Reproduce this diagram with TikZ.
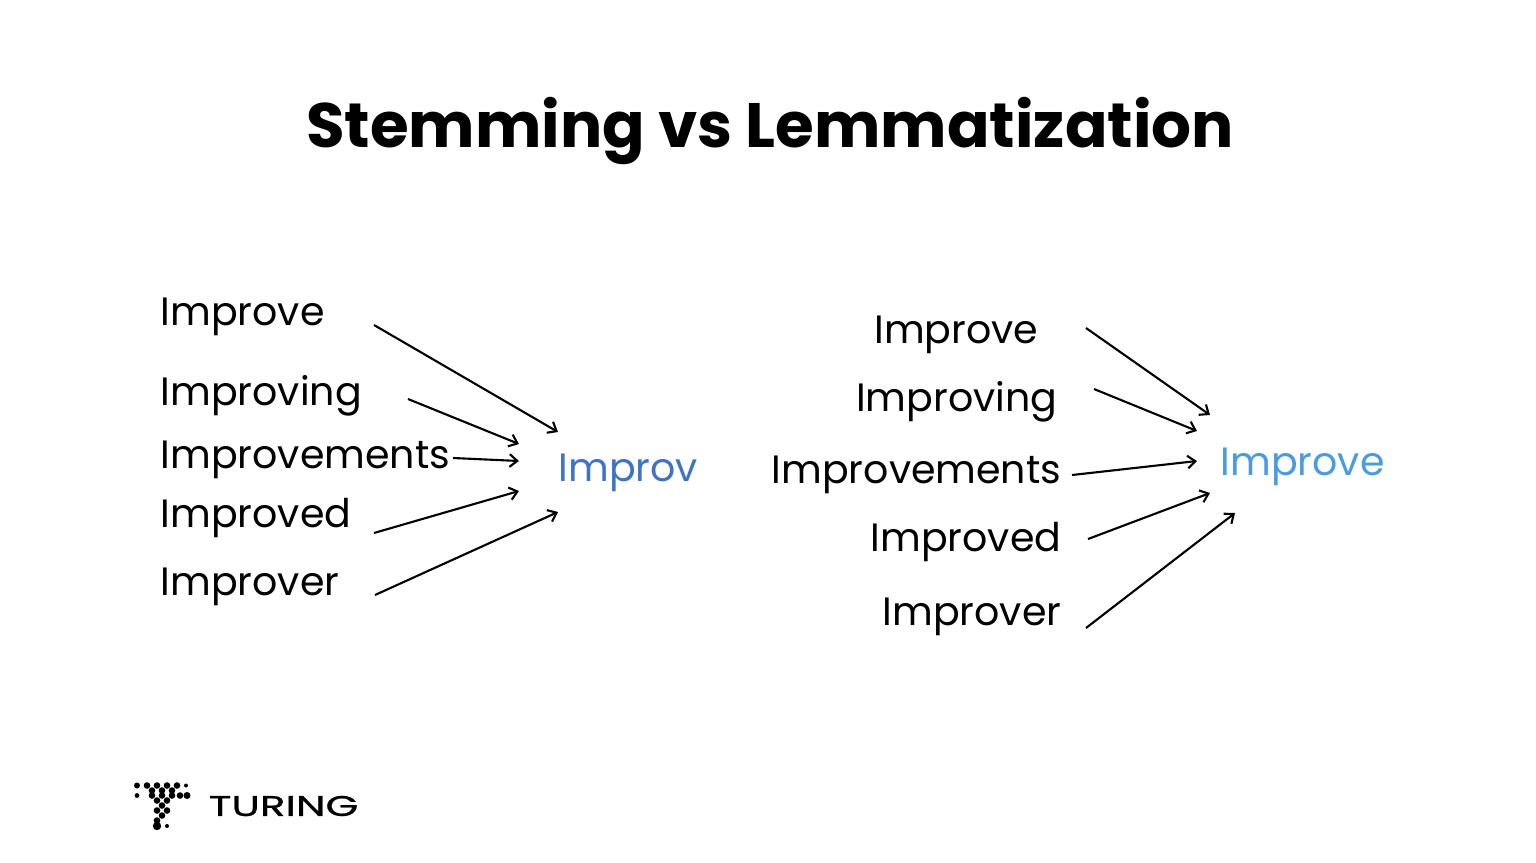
\documentclass[tikz,border=0pt]{standalone}
\usepackage{fontspec}
\setmainfont{Poppins}
\newfontfamily\logofont[FakeStretch=1.48,FakeBold=0.9]{Poppins}
\usetikzlibrary{arrows.meta}
\tikzset{
  word/.style = {inner sep = 0pt, font = \fontsize{11.25}{14}\selectfont},
  link/.style = {-{Straight Barb[length = 2.2pt, width = 3.6pt]}, line width = 0.6pt},
  dot/.style = {fill = black, draw = none}
}
\definecolor{stemblue}{HTML}{3F74C4}
\definecolor{lemmablue}{HTML}{4A9BE0}
\begin{document}
\begin{tikzpicture}
  \useasboundingbox (0, 0) rectangle (15.36, 8.62);
  \node[inner sep = 0pt, font = \fontsize{17.85}{22}\selectfont\bfseries] (title) at (7.70, 7.31) {Stemming vs Lemmatization};
  % left side
  \node[word, anchor = west] (stemA) at (1.60, 5.45) {Improve};
  \node[word, anchor = west] (stemB) at (1.60, 4.66) {Improving};
  \node[word, anchor = west] (stemC) at (1.60, 4.02) {Improvements};
  \node[word, anchor = west] (stemD) at (1.60, 3.44) {Improved};
  \node[word, anchor = west] (stemE) at (1.60, 2.75) {Improver};
  \node[word, anchor = west, text = stemblue] (stemroot) at (5.58, 3.89) {Improv};
  \coordinate (stemAs) at (3.74, 5.37);
  \coordinate (stemBs) at (4.08, 4.63);
  \coordinate (stemCs) at (4.53, 4.04);
  \coordinate (stemDs) at (3.74, 3.29);
  \coordinate (stemEs) at (3.75, 2.67);
  \coordinate (stemAt) at (5.58, 4.30);
  \coordinate (stemBt) at (5.19, 4.18);
  \coordinate (stemCt) at (5.19, 4.01);
  \coordinate (stemDt) at (5.19, 3.71);
  \coordinate (stemEt) at (5.58, 3.50);
  \foreach \w in {A, B, C, D, E}
    \draw[link] (stem\w s) -- (stem\w t);
  % right side
  \node[word, anchor = east] (lemA) at (10.39, 5.27) {Improve};
  \node[word, anchor = east] (lemB) at (10.58, 4.60) {Improving};
  \node[word, anchor = east] (lemC) at (10.62, 3.87) {Improvements};
  \node[word, anchor = east] (lemD) at (10.62, 3.20) {Improved};
  \node[word, anchor = east] (lemE) at (10.62, 2.45) {Improver};
  \node[word, anchor = west, text = lemmablue] (lemroot) at (12.20, 3.95) {Improve};
  \coordinate (lemAs) at (10.86, 5.34);
  \coordinate (lemBs) at (10.94, 4.73);
  \coordinate (lemCs) at (10.72, 3.87);
  \coordinate (lemDs) at (10.88, 3.23);
  \coordinate (lemEs) at (10.86, 2.34);
  \coordinate (lemAt) at (12.10, 4.47);
  \coordinate (lemBt) at (11.97, 4.31);
  \coordinate (lemCt) at (11.97, 4.01);
  \coordinate (lemDt) at (12.10, 3.69);
  \coordinate (lemEt) at (12.35, 3.49);
  \foreach \w in {A, B, C, D, E}
    \draw[link] (lem\w s) -- (lem\w t);
  % logo
  \foreach \x/\y in {1.47/0.765, 1.57/0.765, 1.67/0.765, 1.77/0.765,
      1.52/0.715, 1.62/0.715, 1.72/0.715,
      1.52/0.665, 1.62/0.665, 1.72/0.665, 1.80/0.665,
      1.57/0.615, 1.67/0.615,
      1.62/0.565,
      1.57/0.515, 1.67/0.515,
      1.62/0.465,
      1.57/0.415}
    \fill[dot] (\x, \y) circle (0.033);
  \foreach \x/\y/\r in {1.37/0.765/0.03, 1.86/0.765/0.02, 1.37/0.665/0.024, 1.87/0.665/0.035,
      1.57/0.36/0.042, 1.67/0.36/0.02}
    \fill[dot] (\x, \y) circle (\r);
  \node[inner sep = 0pt, anchor = west, font = \logofont\fontsize{8.1}{10}\selectfont] (logo) at (2.08, 0.56) {TURING};
\end{tikzpicture}
\end{document}
